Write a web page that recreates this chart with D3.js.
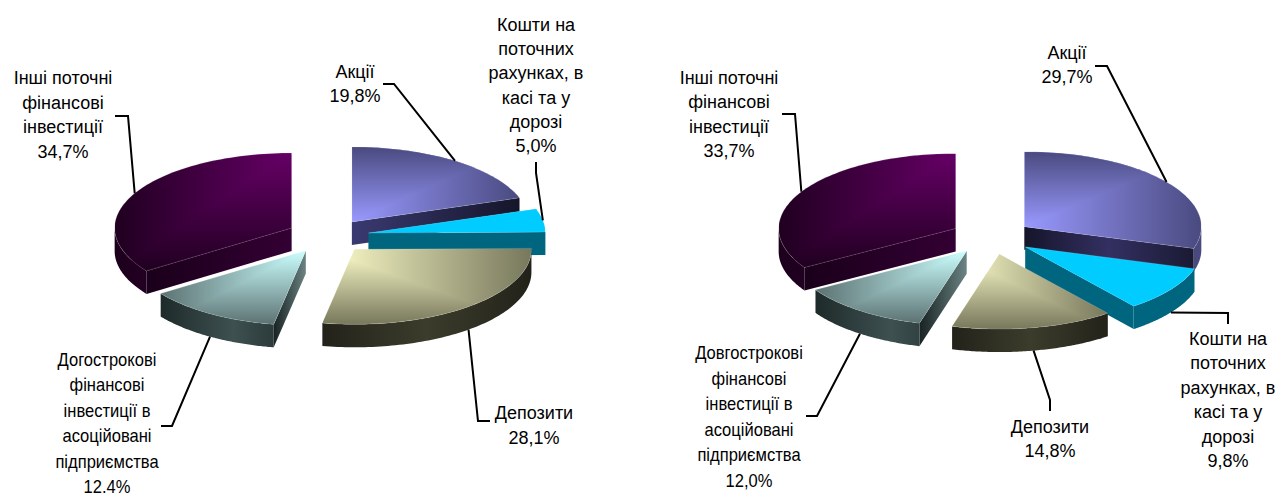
<!DOCTYPE html>
<html lang="uk">
<head>
<meta charset="UTF-8">
<title>Структура фінансових активів</title>
<script src="https://d3js.org/d3.v7.min.js"></script>
<style>
    html, body { margin: 0; padding: 0; background: #fff; }
    svg { display: block; }
    text { font-family: "Liberation Sans", Arial, sans-serif; font-size: 18px; fill: #000; text-anchor: middle; }
</style>
</head>
<body>
<div id="chart"></div>
<script>
// data, clockwise from 12 o'clock
const categories = ["Акції", "Кошти", "Депозити", "Довгострокові", "Інші"];
const valuesLeft = [19.8, 5.0, 28.1, 12.4, 34.7];
const valuesRight = [29.7, 9.8, 14.8, 12.0, 33.7];
const labelsLeft = [
    "Акції\n19,8%",
    "Кошти на\nпоточних\nрахунках, в\nкасі та у\nдорозі\n5,0%",
    "Депозити\n28,1%",
    "Догострокові\nфінансові\nінвестиції в\nасоційовані\nпідприємства\n12.4%",
    "Інші поточні\nфінансові\nінвестиції\n34,7%"
];
const labelsRight = [
    "Акції\n29,7%",
    "Кошти на\nпоточних\nрахунках, в\nкасі та у\nдорозі\n9,8%",
    "Депозити\n14,8%",
    "Довгострокові\nфінансові\nінвестиції в\nасоційовані\nпідприємства\n12,0%",
    "Інші поточні\nфінансові\nінвестиції\n33,7%"
];

// colours per category: top face (bright, dark), wall (left, mid, right), radial face (apex, rim)
const topColors = [["#9999ff", "#4a4a80"], ["#00ccff", "#00ccff"], ["#ffffcc", "#77775c"], ["#ccffff", "#5c7272"], ["#660066", "#200020"]];
const wallColors = [["#3a3a70", "#3a3a70", "#4a4a7e"], ["#006680", "#006680", "#006680"], ["#22221a", "#3c3c2c", "#22221a"], ["#1e2a2a", "#3e5050", "#1e2a2a"], ["#1c001c", "#2e002e", "#330033"]];
const edgeColors = [["#3a3a72", "#15152a"], ["#006680", "#006680"], ["#2a2a1e", "#2a2a1e"], ["#6c8484", "#182222"], ["#330033", "#1a001a"]];
const focusTop = [false, false, false, false, true];

// layout of the two pies
const rx = 177, ry = 75, depth = 23, explode = 41 / 177;
const pies = [
    {
        id: "a", cx: 328, cy: 236, values: valuesLeft, labels: labelsLeft,
        text: [
            {x: 355, y: 78, dy: 24.2}, {x: 536, y: 31, dy: 24.2}, {x: 534, y: 419, dy: 24.5},
            {x: 107, y: 366, dy: 25.4, sx: 0.92}, {x: 63, y: 84, dy: 24.6}
        ],
        leaders: [
            [[394, 84], [383, 84]], [[536, 173], [536, 162]], [[478, 421], [490, 421]],
            [[172, 426], [161, 426]], [[128, 116], [115, 116]]
        ]
    },
    {
        id: "b", cx: 991.4, cy: 237, values: valuesRight, labels: labelsRight,
        blueEdge: ["#15152a", "#333062", "#1a1a33"],
        text: [
            {x: 1067, y: 59, dy: 24.2}, {x: 1228, y: 345, dy: 24.4}, {x: 1050, y: 433, dy: 24.4},
            {x: 749, y: 359, dy: 25.6, sx: 0.92}, {x: 729, y: 84, dy: 24.4}
        ],
        leaders: [
            [[1107, 66], [1095, 66]], [[1228, 313], [1228, 324]], [[1050, 400], [1050, 411]],
            [[817, 416], [806, 416]], [[795, 114], [782, 114]]
        ]
    }
];

const svg = d3.select("#chart").append("svg")
    .attr("width", 1278)
    .attr("height", 498);
const defs = svg.append("defs");

function linearGrad(id, x1, y1, x2, y2, colors) {
    const g = defs.append("linearGradient")
        .attr("id", id)
        .attr("gradientUnits", "userSpaceOnUse")
        .attr("x1", x1).attr("y1", y1)
        .attr("x2", x2).attr("y2", y2);
    colors.forEach((c, i) => {
        g.append("stop").attr("offset", i / (colors.length - 1)).attr("stop-color", c);
    });
    return `url(#${id})`;
}

function drawPie(p) {
    const x = d3.scaleLinear().domain([-1, 1]).range([p.cx - rx, p.cx + rx]);
    const y = d3.scaleLinear().domain([-1, 1]).range([p.cy - ry, p.cy + ry]);
    const line = d3.line();
    const arcs = d3.pie().sort(null).value(d => d)(p.values);
    const g = svg.append("g");

    const slices = arcs.map((a, i) => {
        const mid = (a.startAngle + a.endAngle) / 2;
        const ax = explode * Math.sin(mid), ay = -explode * Math.cos(mid);
        const rim = t => [x(ax + Math.sin(t)), y(ay - Math.cos(t))];
        return {i, a, mid, rim, apex: [x(ax), y(ay)]};
    });

    // back to front
    slices.slice().sort((s, t) => s.apex[1] - t.apex[1]).forEach(s => {
        const {i, a, rim, apex} = s;
        const pre = `${p.id}${i}`;
        const n = 80;
        const sweep = d3.range(n + 1).map(k => a.startAngle + (a.endAngle - a.startAngle) * k / n);
        const face = [apex, ...sweep.map(rim)];
        const xs = d3.extent(face, d => d[0]), ys = d3.extent(face, d => d[1]);

        // radial faces, only those turned to the viewer
        [[a.startAngle, Math.sin(a.startAngle) < -0.01], [a.endAngle, Math.sin(a.endAngle) > 0.01]].forEach(([t, show], k) => {
            if (!show) return;
            const r = rim(t);
            const stops = (i === 0 && p.blueEdge) ? p.blueEdge : edgeColors[i];
            g.append("path")
                .attr("d", line([apex, r, [r[0], r[1] + depth], [apex[0], apex[1] + depth]]) + "Z")
                .attr("fill", linearGrad(`${pre}e${k}`, apex[0], 0, r[0], 0, stops));
        });

        // outer wall, front half of the rim
        const w0 = Math.max(a.startAngle, Math.PI / 2), w1 = Math.min(a.endAngle, Math.PI * 1.5);
        if (w1 > w0) {
            const pts = d3.range(n + 1).map(k => rim(w0 + (w1 - w0) * k / n));
            const low = pts.map(q => [q[0], q[1] + depth]).reverse();
            g.append("path")
                .attr("d", line([...pts, ...low]) + "Z")
                .attr("fill", linearGrad(`${pre}w`, xs[0], 0, xs[1], 0, wallColors[i]));
        }

        // top face: rectangular gradient spreading out from the apex side of the bbox
        const fx = Math.abs(apex[0] - xs[0]) < Math.abs(apex[0] - xs[1]) ? xs[0] : xs[1];
        const fy = focusTop[i] ? ys[0] : apex[1];
        const ox = fx === xs[0] ? xs[1] : xs[0];
        const oy = Math.abs(fy - ys[0]) < Math.abs(fy - ys[1]) ? ys[1] : ys[0];
        defs.append("clipPath").attr("id", `${pre}c`)
            .append("path").attr("d", line(face) + "Z");
        const top = g.append("g").attr("clip-path", `url(#${pre}c)`);
        top.append("rect")
            .attr("x", xs[0]).attr("y", ys[0])
            .attr("width", xs[1] - xs[0]).attr("height", ys[1] - ys[0])
            .attr("fill", linearGrad(`${pre}h`, fx, 0, ox, 0, topColors[i]));
        top.append("path")
            .attr("d", line([[fx, fy], [ox, oy], [fx, oy]]) + "Z")
            .attr("fill", linearGrad(`${pre}v`, 0, fy, 0, oy, topColors[i]));
        g.append("path")
            .attr("d", line(face) + "Z")
            .attr("fill", "none")
            .attr("stroke", "#fff")
            .attr("stroke-opacity", 0.3)
            .attr("stroke-width", 0.5);
    });

    // leader lines start on the rim at the middle of the slice
    slices.forEach(s => {
        const r = s.rim(s.mid);
        const front = Math.cos(s.mid) < 0;
        const start = [r[0], r[1] + (front ? depth : 0)];
        svg.append("path")
            .attr("d", line([start, ...p.leaders[s.i]]))
            .attr("fill", "none")
            .attr("stroke", "#000")
            .attr("stroke-width", 2);
    });

    // labels
    p.labels.forEach((label, i) => {
        const t = p.text[i];
        label.split("\n").forEach((str, k) => {
            const by = t.y + k * t.dy;
            svg.append("text")
                .attr("transform", `translate(${t.x},${by}) scale(${t.sx || 1},1)`)
                .text(str);
        });
    });
}

pies.forEach(drawPie);
</script>
</body>
</html>
